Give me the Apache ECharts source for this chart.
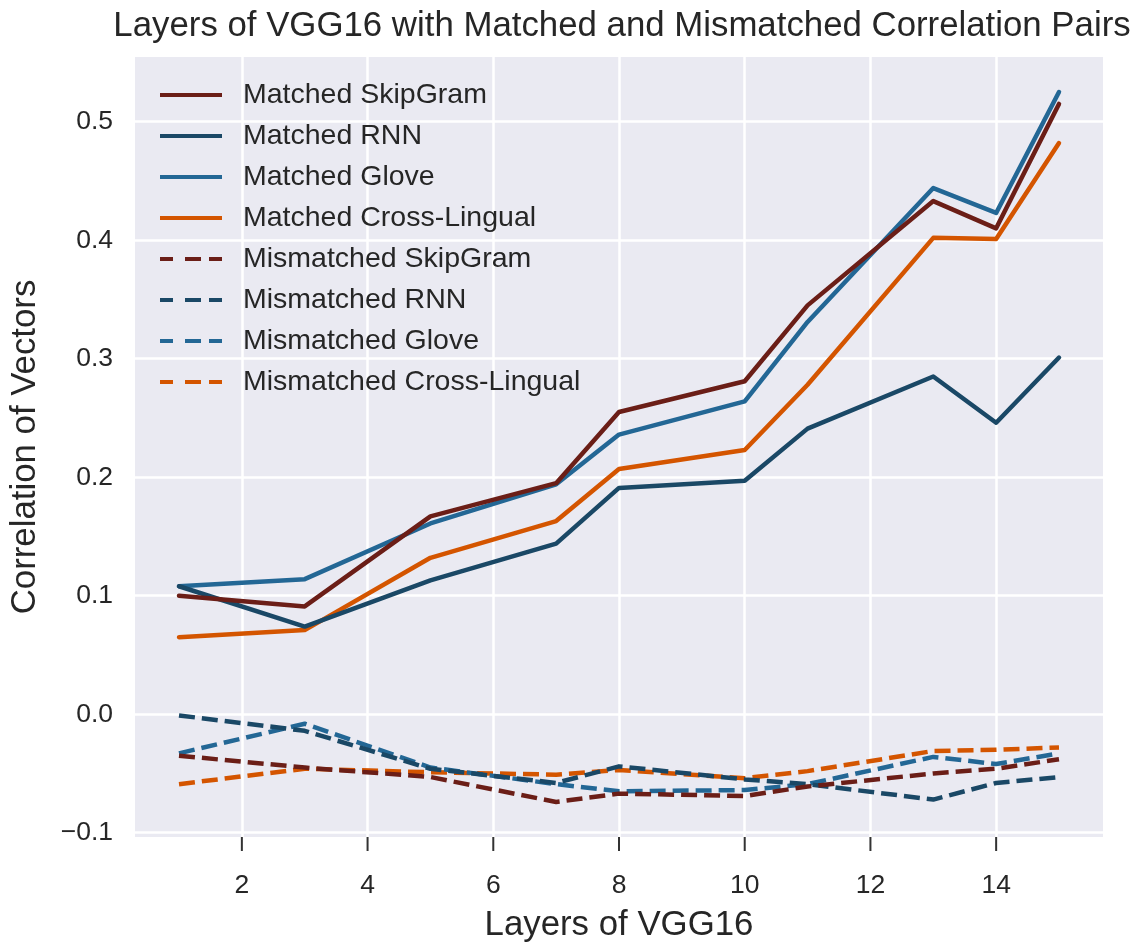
<!DOCTYPE html>
<html>
<head>
<meta charset="utf-8">
<script src="https://cdn.jsdelivr.net/npm/echarts@6/dist/echarts.min.js"></script>
<style>
html,body{margin:0;padding:0;background:#fff;}
#chart{width:1132px;height:942px;}
</style>
</head>
<body>
<div id="chart"></div>
<script>
const layers = [1, 3, 5, 7, 8, 10, 11, 13, 14, 15];
const matchedSkipGram = [0.100, 0.091, 0.167, 0.195, 0.255, 0.281, 0.345, 0.433, 0.410, 0.515];
const matchedRNN = [0.108, 0.074, 0.113, 0.144, 0.191, 0.197, 0.241, 0.285, 0.246, 0.301];
const matchedGlove = [0.108, 0.114, 0.161, 0.194, 0.236, 0.264, 0.331, 0.444, 0.423, 0.525];
const matchedCross = [0.065, 0.071, 0.132, 0.163, 0.207, 0.223, 0.278, 0.402, 0.401, 0.482];
const mismatchedSkipGram = [-0.035, -0.045, -0.053, -0.074, -0.067, -0.069, -0.061, -0.050, -0.046, -0.038];
const mismatchedRNN = [-0.001, -0.014, -0.046, -0.058, -0.044, -0.055, -0.059, -0.072, -0.058, -0.053];
const mismatchedGlove = [-0.033, -0.008, -0.045, -0.059, -0.065, -0.064, -0.059, -0.036, -0.042, -0.033];
const mismatchedCross = [-0.059, -0.046, -0.049, -0.051, -0.047, -0.054, -0.048, -0.031, -0.030, -0.028];

const xTicks = [2, 4, 6, 8, 10, 12, 14];
const yTicks = [-0.1, 0.0, 0.1, 0.2, 0.3, 0.4, 0.5];
const X_MIN = 0.3, X_MAX = 15.7;
const Y_MIN = -0.1036, Y_MAX = 0.5546;

const seriesNames = [
  'Matched SkipGram', 'Matched RNN', 'Matched Glove', 'Matched Cross-Lingual',
  'Mismatched SkipGram', 'Mismatched RNN', 'Mismatched Glove', 'Mismatched Cross-Lingual'
];
const seriesValues = [
  matchedSkipGram, matchedRNN, matchedGlove, matchedCross,
  mismatchedSkipGram, mismatchedRNN, mismatchedGlove, mismatchedCross
];
const palette = ['#6b1e17', '#1a4866', '#236795', '#d45500'];

const FONT = 'Arial, "Liberation Sans", sans-serif';
const TEXT = '#262626';
const SOLID_ICON = 'path://M0 0h62v4H0z';
const DASH_ICON = 'path://M0 0h13v4H0z M25 0h16v4H25z M49 0h13v4H49z';

const series = seriesNames.map((name, i) => {
  const dashed = i >= 4;
  return {
    name: name,
    type: 'line',
    symbol: 'none',
    data: layers.map((x, j) => [x, seriesValues[i][j]]),
    color: palette[i % 4],
    lineStyle: {
      color: palette[i % 4],
      width: 4.5,
      type: dashed ? [16, 7] : 'solid',
      cap: dashed ? 'butt' : 'round',
      join: 'round'
    },
    itemStyle: { color: palette[i % 4] },
    z: 10 - (i % 4)
  };
});

// x-axis tick marks below the plot, placed through the axis scale
series.push({
  name: 'xTickMarks',
  type: 'custom',
  clip: false,
  silent: true,
  z: 20,
  data: xTicks.map(t => [t, Y_MIN]),
  renderItem: function (params, api) {
    const p = api.coord([api.value(0), api.value(1)]);
    return {
      type: 'line',
      shape: { x1: p[0], y1: p[1], x2: p[0], y2: p[1] + 14 },
      style: { stroke: '#333333', lineWidth: 2 }
    };
  }
});

const chart = echarts.init(document.getElementById('chart'), null, { renderer: 'canvas' });
chart.setOption({
  backgroundColor: '#ffffff',
  animation: false,
  title: {
    text: 'Layers of VGG16 with Matched and Mismatched Correlation Pairs',
    left: 617,
    textAlign: 'center',
    top: 4,
    textStyle: { fontFamily: FONT, fontSize: 34.8, fontWeight: 'normal', color: TEXT }
  },
  legend: {
    orient: 'vertical',
    left: 160,
    top: 80,
    padding: 0,
    itemWidth: 62,
    itemHeight: 4.5,
    itemGap: 11,
    data: seriesNames.map((n, i) => ({ name: n, icon: i >= 4 ? DASH_ICON : SOLID_ICON })),
    textStyle: { fontFamily: FONT, fontSize: 28.5, lineHeight: 30, color: TEXT, padding: [0, 0, 0, 16] }
  },
  grid: {
    left: 135, top: 57, right: 29, bottom: 105,
    backgroundColor: '#eaeaf2', show: true, borderWidth: 0,
    containLabel: false, outerBoundsMode: 'none'
  },
  xAxis: {
    type: 'value',
    position: 'bottom',
    min: X_MIN,
    max: X_MAX,
    name: 'Layers of VGG16',
    nameLocation: 'middle',
    nameGap: 71,
    nameTextStyle: { fontFamily: FONT, fontSize: 34.8, color: TEXT },
    axisLine: { show: false, onZero: false },
    axisTick: { show: false, customValues: xTicks },
    axisLabel: { fontFamily: FONT, fontSize: 26.5, color: TEXT, margin: 35, customValues: xTicks },
    splitLine: { show: true, lineStyle: { color: '#ffffff', width: 2.5 } }
  },
  yAxis: {
    type: 'value',
    min: Y_MIN,
    max: Y_MAX,
    name: 'Correlation of Vectors',
    nameLocation: 'middle',
    nameGap: 92,
    nameRotate: 90,
    nameTextStyle: { fontFamily: FONT, fontSize: 34.8, color: TEXT },
    axisLine: { show: false, onZero: false },
    axisTick: { show: false, customValues: yTicks },
    axisLabel: {
      fontFamily: FONT, fontSize: 26.5, color: TEXT, margin: 22, customValues: yTicks,
      formatter: v => v.toFixed(1).replace('-', '\u2212')
    },
    splitLine: { show: true, lineStyle: { color: '#ffffff', width: 2.5 } }
  },
  series: series
});
</script>
</body>
</html>
